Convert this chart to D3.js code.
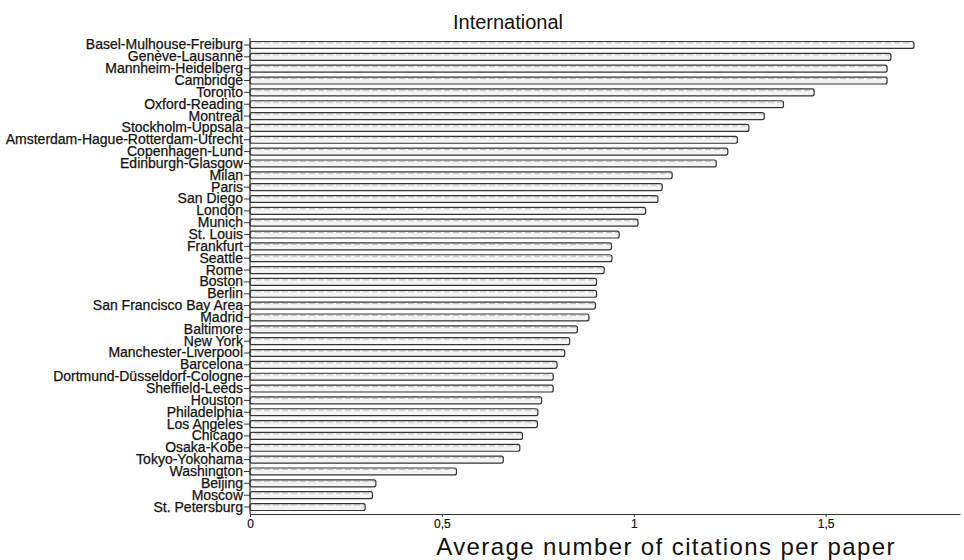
<!DOCTYPE html>
<html>
<head>
<meta charset="utf-8">
<script src="https://cdn.jsdelivr.net/npm/d3@7"></script>
<style>
  body { margin: 0; background: white; }
  svg { display: block; font-family: "Liberation Sans", Arial, sans-serif; }
</style>
</head>
<body>
<script>
// city regions, top to bottom
var cities = ["Basel-Mulhouse-Freiburg", "Genève-Lausanne", "Mannheim-Heidelberg", "Cambridge",
  "Toronto", "Oxford-Reading", "Montreal", "Stockholm-Uppsala", "Amsterdam-Hague-Rotterdam-Utrecht",
  "Copenhagen-Lund", "Edinburgh-Glasgow", "Milan", "Paris", "San Diego", "London", "Munich",
  "St. Louis", "Frankfurt", "Seattle", "Rome", "Boston", "Berlin", "San Francisco Bay Area",
  "Madrid", "Baltimore", "New York", "Manchester-Liverpool", "Barcelona",
  "Dortmund-Düsseldorf-Cologne", "Sheffield-Leeds", "Houston", "Philadelphia", "Los Angeles",
  "Chicago", "Osaka-Kobe", "Tokyo-Yokohama", "Washington", "Beijing", "Moscow", "St. Petersburg"];

var citations = [1.73, 1.67, 1.66, 1.66,
  1.47, 1.39, 1.34, 1.30, 1.27,
  1.245, 1.215, 1.10, 1.074, 1.063, 1.031, 1.011,
  0.962, 0.942, 0.943, 0.923, 0.903, 0.903, 0.90,
  0.883, 0.853, 0.833, 0.82, 0.80,
  0.79, 0.79, 0.76, 0.75, 0.749,
  0.71, 0.703, 0.66, 0.538, 0.328, 0.319, 0.30];

var xTicks = [0, 0.5, 1, 1.5];

width = 964;
height = 560;
margin = { top: 39, right: 4, bottom: 47, left: 250 }

var data = cities.map(function(c, i){ return { city: c, value: citations[i] }; });

const svg = d3.select('body')
    .append("svg")
    .attr("width", width)
    .attr("height", height);

var x = d3.scaleLinear()
    .domain([0, 1.85])
    .range([margin.left, width - margin.right]);

var y = d3.scaleBand()
    .domain(cities)
    .range([margin.top, height - margin.bottom])
    .paddingInner(0.33)
    .paddingOuter(0.17);

// scanned-look texture inside the bars
var defs = svg.append("defs");
var pat = defs.append("pattern")
    .attr("id", "scan")
    .attr("patternUnits", "userSpaceOnUse")
    .attr("width", 9)
    .attr("height", y.step());
pat.append("rect").attr("width", 9).attr("height", y.step()).attr("fill", "#f4f4f4");
pat.append("line")
    .attr("x1", 0).attr("x2", 6)
    .attr("y1", 2.5).attr("y2", 2.5)
    .attr("stroke", "#bdbdbd").attr("stroke-width", 0.8);
pat.append("line")
    .attr("x1", 3).attr("x2", 9)
    .attr("y1", 7.5).attr("y2", 7.5)
    .attr("stroke", "#b0b0b0").attr("stroke-width", 0.8);

svg.append("g")
    .selectAll("rect")
    .data(data)
    .join("rect")
    .attr("x", x(0))
    .attr("y", d => y(d.city) + 0.5)
    .attr("width", d => x(d.value) - x(0))
    .attr("height", y.bandwidth() - 1)
    .attr("rx", 2)
    .attr("fill", "url(#scan)")
    .attr("stroke", "#333")
    .attr("stroke-width", 1.2);

// x axis
var xAxisY = height - margin.bottom + 1;
var xg = svg.append("g")
    .attr("transform", `translate(0,${xAxisY})`)
    .call(d3.axisBottom(x)
        .tickValues(xTicks)
        .tickSize(3)
        .tickSizeOuter(0)
        .tickPadding(2)
        .tickFormat(d => String(d).replace(".", ",")));
xg.select(".domain").attr("stroke", "#333").attr("stroke-width", 1.2);
xg.selectAll(".tick line").attr("stroke", "#333");
xg.selectAll(".tick text")
    .attr("font-size", 12)
    .attr("font-family", "Liberation Sans, Arial, sans-serif")
    .attr("fill", "#111")
    .attr("stroke", "#111")
    .attr("stroke-width", 0.2);

// y axis
var yg = svg.append("g")
    .attr("transform", `translate(${margin.left},0)`)
    .call(d3.axisLeft(y).tickSize(6).tickSizeOuter(0).tickPadding(1));
yg.select(".domain")
    .attr("d", `M0,${margin.top - 1}V${xAxisY}`)
    .attr("stroke", "#333").attr("stroke-width", 1.2);
yg.selectAll(".tick line").attr("stroke", "#333");
yg.selectAll(".tick text")
    .attr("font-size", 14)
    .attr("font-family", "Liberation Sans, Arial, sans-serif")
    .attr("fill", "#111")
    .attr("stroke", "#111")
    .attr("stroke-width", 0.25);

// TITLE
svg.append('text')
    .attr('x', 508)
    .attr('y', 29)
    .attr('fill', '#111')
    .attr("text-anchor", "middle")
    .attr("font-size", 20)
    .text('International');

svg.append('text')
    .attr('x', 666)
    .attr('y', 554.5)
    .attr('fill', '#111')
    .attr("text-anchor", "middle")
    .attr("font-size", 24)
    .attr("letter-spacing", 1.4)
    .text('Average number of citations per paper');
</script>
</body>
</html>
